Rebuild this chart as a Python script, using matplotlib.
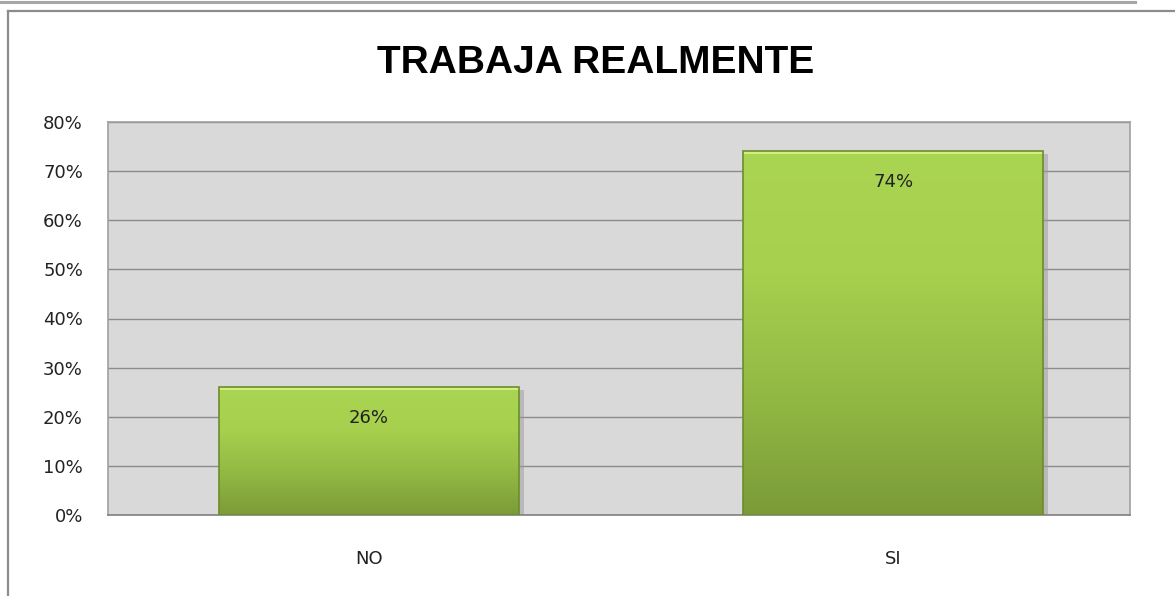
import numpy as np
import matplotlib
matplotlib.use("Agg")
import matplotlib.pyplot as plt
from matplotlib.lines import Line2D
from matplotlib.patches import Rectangle
from matplotlib.colors import LinearSegmentedColormap

categories = ["NO", "SI"]
values = [26, 74]
yticks = [0, 10, 20, 30, 40, 50, 60, 70, 80]
title = "TRABAJA REALMENTE"

W, H = 1175, 596
fig = plt.figure(figsize=(W / 100, H / 100), dpi=100)
fig.patch.set_facecolor("white")

# outer frame lines of the sheet
fig.add_artist(Line2D([0, 1135 / W], [1 - 1.5 / H] * 2, color="#a6a6a6", lw=2.2))
fig.add_artist(Line2D([7.5 / W, 1], [1 - 11 / H] * 2, color="#8c8c8c", lw=1.6))
fig.add_artist(Line2D([7.5 / W] * 2, [0, 1 - 11 / H], color="#8c8c8c", lw=1.6))

ax = fig.add_axes([108 / W, 1 - 515 / H, (1130 - 108) / W, (515 - 122) / H])
ax.set_facecolor("#d9d9d9")
ax.set_yticks(yticks)
ax.set_yticklabels([f"{t}%" for t in yticks], fontsize=13, color="#222222")
ax.set_xticks(range(len(categories)))
ax.set_xticklabels(categories, fontsize=13, color="#222222")
ax.tick_params(axis="y", length=0, pad=18)
ax.tick_params(axis="x", length=0, pad=25)
ax.grid(axis="y", color="#8c8c8c", lw=1)
ax.set_axisbelow(True)
for s in ax.spines.values():
    s.set_color("#a0a0a0")
    s.set_linewidth(1.2)
ax.spines["bottom"].set_color("#808080")

green = LinearSegmentedColormap.from_list("g", ["#7b9b38", "#93b944", "#a6d04e", "#aad552"])
grad = np.linspace(0, 1, 256).reshape(-1, 1)
bw = 0.572
bars = ax.bar(range(len(categories)), values, width=bw, color="none", zorder=3)
for b, v in zip(bars, values):
    x0, w, h = b.get_x(), b.get_width(), b.get_height()
    # shadow
    ax.add_patch(Rectangle((x0 + 0.006, -0.6), w + 0.004, h, color="#9a9a9a", alpha=0.5, zorder=2, lw=0))
    im = ax.imshow(grad, cmap=green, origin="lower", aspect="auto",
                   extent=(x0, x0 + w, 0, h), zorder=3)
    im.set_clip_path(b)
    # bevel highlights
    ax.add_patch(Rectangle((x0, h - 0.6), w, 0.6, color="#d2ef82", zorder=4, lw=0))
    ax.add_patch(Rectangle((x0, 0), w, h, fill=False, ec="#6d8c2c", lw=1.2, zorder=5))
    ax.annotate(f"{v}%", (x0 + w / 2, h), xytext=(0, -22), textcoords="offset points",
                ha="center", va="center", fontsize=13, color="#222222", zorder=6)
ax.set_xlim(-0.498, 1.452)
ax.set_ylim(0, 80)

fig.text(596 / W, 1 - 63 / H, title, ha="center", va="center", fontsize=28,
         fontweight="bold", family="Liberation Sans", color="black")

fig.savefig("out.png", dpi=100)
